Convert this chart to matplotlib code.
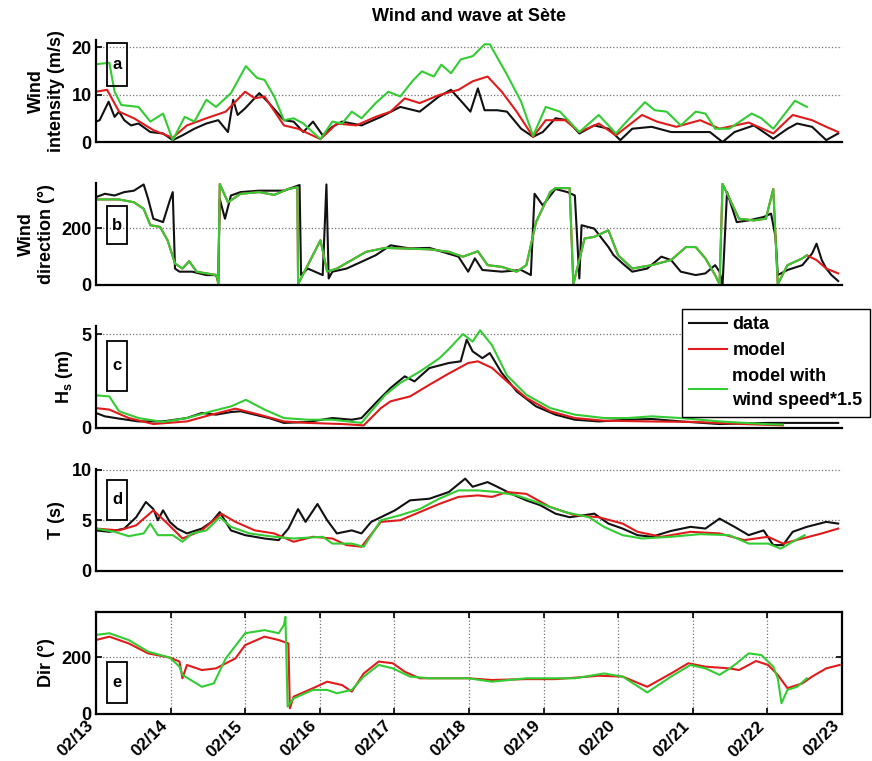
import matplotlib
matplotlib.use("Agg")
import matplotlib.pyplot as plt
from matplotlib.patches import Rectangle
import numpy as np

plt.rcParams['font.family'] = ['Liberation Sans', 'DejaVu Sans']
plt.rcParams['font.weight'] = 'bold'
plt.rcParams['mathtext.fontset'] = 'custom'
plt.rcParams['mathtext.rm'] = 'Liberation Sans:bold'
plt.rcParams['mathtext.it'] = 'Liberation Sans:bold'
plt.rcParams['mathtext.bf'] = 'Liberation Sans:bold'
plt.rcParams['mathtext.default'] = 'bf'

# time axis: days since 02/13 00:00
day_labels = ['02/13', '02/14', '02/15', '02/16', '02/17', '02/18',
              '02/19', '02/20', '02/21', '02/22', '02/23']
series_labels = ['data', 'model', 'model with\nwind speed*1.5']

# (a) wind intensity (m/s)
wspd_data_t = [0, 0.05, 0.17, 0.25, 0.31, 0.38, 0.47, 0.57, 0.73, 0.90,
               1.03, 1.16, 1.32, 1.48, 1.64, 1.77, 1.84, 1.90, 2.00, 2.19,
               2.32, 2.52, 2.65, 2.78, 2.91, 3.04, 3.17, 3.30, 3.56, 3.82,
               4.08, 4.34, 4.60, 4.76, 4.92, 5.02, 5.12, 5.21, 5.38, 5.51,
               5.70, 5.86, 5.99, 6.16, 6.32, 6.48, 6.68, 6.87, 7.03, 7.19,
               7.45, 7.71, 7.97, 8.23, 8.40, 8.56, 8.82, 9.08, 9.27, 9.40,
               9.60, 9.79, 9.95]
wspd_data = [4.3, 4.6, 8.5, 5.3, 6.4, 4.6, 3.5, 3.9, 2.1, 1.8,
             0.4, 1.4, 2.8, 3.9, 4.6, 2.1, 8.9, 5.7, 7.1, 10.3,
             8.2, 4.6, 4.3, 2.1, 4.3, 1.4, 3.2, 4.3, 3.5, 5.3,
             7.4, 6.4, 9.6, 11.0, 8.2, 6.4, 11.3, 6.7, 6.7, 6.4,
             2.8, 1.1, 2.1, 5.0, 4.6, 1.8, 3.5, 2.8, 0.4, 2.8,
             3.2, 2.1, 2.1, 2.1, 0.0, 2.1, 3.5, 0.7, 2.8, 3.9,
             3.2, 0.4, 1.8]
wspd_model_t = [0, 0.15, 0.31, 0.51, 0.77, 1.03, 1.22, 1.48, 1.74, 2.00,
                2.13, 2.26, 2.52, 2.71, 3.01, 3.23, 3.49, 3.75, 3.95, 4.14,
                4.34, 4.60, 4.86, 5.05, 5.25, 5.44, 5.64, 5.86, 6.03, 6.29,
                6.48, 6.74, 6.97, 7.32, 7.52, 7.78, 8.10, 8.36, 8.75, 9.08,
                9.34, 9.60, 9.79, 9.95]
wspd_model = [10.6, 11.0, 6.4, 5.0, 2.5, 0.9, 3.5, 5.0, 6.4, 10.6,
              9.2, 9.6, 3.5, 2.8, 0.6, 3.9, 3.5, 5.3, 6.4, 9.2,
              8.2, 9.9, 11.0, 12.8, 13.8, 10.6, 6.4, 1.1, 4.6, 4.6,
              2.1, 3.9, 1.4, 5.7, 4.3, 3.2, 4.6, 2.8, 4.1, 1.8,
              5.7, 4.6, 3.2, 2.1]
wspd_x15_t = [0, 0.18, 0.25, 0.34, 0.57, 0.73, 0.90, 1.03, 1.19, 1.32,
              1.48, 1.61, 1.81, 2.01, 2.16, 2.26, 2.39, 2.52, 2.65, 2.78,
              3.01, 3.17, 3.30, 3.43, 3.56, 3.75, 3.92, 4.08, 4.24, 4.37,
              4.53, 4.63, 4.76, 4.89, 5.05, 5.21, 5.28, 5.51, 5.70, 5.86,
              6.03, 6.22, 6.48, 6.74, 6.97, 7.13, 7.36, 7.49, 7.65, 7.84,
              8.04, 8.17, 8.30, 8.49, 8.79, 8.92, 9.08, 9.37, 9.53]
wspd_x15 = [16.4, 16.7, 10.6, 7.8, 7.4, 4.3, 6.0, 0.4, 5.3, 4.3,
            8.9, 7.4, 10.3, 16.0, 13.5, 13.1, 9.6, 4.6, 5.0, 3.9,
            0.6, 4.3, 3.9, 6.4, 5.0, 8.2, 10.6, 9.6, 12.8, 14.9,
            13.8, 16.3, 14.5, 17.4, 18.1, 20.6, 20.6, 14.2, 8.5, 1.3,
            7.4, 6.4, 2.1, 5.7, 1.8, 4.6, 8.4, 6.7, 6.4, 3.5,
            6.4, 6.0, 2.8, 2.8, 6.0, 5.0, 2.8, 8.7, 7.4]

# (b) wind direction (deg); the x1.5 run has the same direction as the model
wdir_data_t = [0, 0.12, 0.25, 0.38, 0.51, 0.64, 0.70, 0.77, 0.90, 0.99,
               1.03, 1.06, 1.12, 1.29, 1.48, 1.61, 1.64, 1.66, 1.73, 1.81,
               1.94, 2.19, 2.52, 2.73, 2.75, 2.84, 3.04, 3.09, 3.12, 3.17,
               3.36, 3.56, 3.75, 3.95, 4.21, 4.47, 4.86, 4.99, 5.08, 5.18,
               5.44, 5.70, 5.83, 5.88, 5.99, 6.16, 6.32, 6.42, 6.48, 6.51,
               6.68, 6.87, 6.94, 7.06, 7.19, 7.39, 7.58, 7.71, 7.84, 8.04,
               8.17, 8.30, 8.36, 8.40, 8.46, 8.59, 8.75, 8.95, 9.05, 9.11,
               9.14, 9.27, 9.47, 9.60, 9.66, 9.73, 9.79, 9.86, 9.95]
wdir_data = [310, 322, 316, 328, 333, 355, 304, 234, 222, 298,
             328, 58, 47, 47, 35, 35, 12, 304, 234, 316,
             328, 333, 333, 353, 35, 58, 35, 355, 23, 47,
             58, 82, 105, 140, 129, 131, 100, 47, 94, 53,
             47, 53, 35, 322, 281, 339, 328, 316, 23, 211,
             199, 134, 105, 76, 47, 58, 100, 88, 47, 35,
             41, 70, 47, 0, 328, 222, 228, 240, 252, 170,
             35, 53, 70, 111, 146, 88, 58, 35, 14]
wdir_model_t = [0, 0.31, 0.51, 0.64, 0.73, 0.86, 0.96, 1.06, 1.16, 1.25,
                1.35, 1.48, 1.62, 1.64, 1.66, 1.77, 1.94, 2.19, 2.39, 2.58,
                2.70, 2.71, 2.84, 3.01, 3.10, 3.23, 3.43, 3.62, 3.88, 4.47,
                4.73, 4.92, 5.12, 5.25, 5.44, 5.64, 5.77, 5.90, 6.09, 6.16,
                6.35, 6.40, 6.55, 6.68, 6.87, 7.00, 7.19, 7.45, 7.71, 7.91,
                8.04, 8.17, 8.30, 8.36, 8.40, 8.62, 8.82, 8.98, 9.08, 9.14,
                9.27, 9.47, 9.53, 9.66, 9.79, 9.95]
wdir_model = [302, 302, 292, 269, 211, 205, 158, 76, 58, 84,
              47, 41, 35, 3, 357, 292, 322, 328, 318, 339,
              345, 3, 70, 158, 47, 58, 88, 117, 131, 126,
              117, 100, 119, 70, 64, 47, 70, 222, 328, 342,
              342, 3, 164, 170, 193, 105, 58, 70, 88, 134,
              134, 94, 35, 3, 357, 234, 228, 234, 339, 3,
              70, 94, 105, 88, 58, 41]
x15_end = 9.53

# (c) significant wave height (m)
hs_data_t = [0, 0.12, 0.31, 0.57, 0.90, 1.22, 1.42, 1.61, 1.81, 1.94,
             2.13, 2.32, 2.52, 2.84, 3.17, 3.43, 3.56, 3.75, 3.95, 4.14,
             4.27, 4.47, 4.73, 4.89, 4.97, 5.05, 5.18, 5.28, 5.44, 5.64,
             5.90, 6.16, 6.42, 6.74, 7.13, 7.45, 7.84, 8.36, 9.01, 9.95]
hs_data = [0.8, 0.62, 0.5, 0.35, 0.35, 0.53, 0.8, 0.71, 0.85, 0.89,
           0.71, 0.53, 0.27, 0.32, 0.53, 0.44, 0.53, 1.33, 2.13, 2.75,
           2.48, 3.19, 3.46, 3.55, 4.7, 4.08, 3.72, 3.99, 2.93, 1.95,
           1.15, 0.71, 0.44, 0.35, 0.44, 0.48, 0.35, 0.21, 0.27, 0.27]
hs_model_t = [0, 0.18, 0.44, 0.77, 1.22, 1.55, 1.87, 2.19, 2.52, 2.84,
              3.30, 3.59, 3.82, 3.95, 4.21, 4.47, 4.73, 4.99, 5.12, 5.31,
              5.51, 5.77, 6.09, 6.42, 6.81, 7.39, 8.04, 8.69, 9.21]
hs_model = [1.06, 0.98, 0.53, 0.21, 0.35, 0.71, 1.03, 0.71, 0.35, 0.27,
            0.21, 0.14, 1.06, 1.42, 1.68, 2.3, 2.9, 3.46, 3.55, 3.2,
            2.48, 1.6, 0.89, 0.53, 0.39, 0.35, 0.32, 0.21, 0.14]
hs_x15_t = [0, 0.18, 0.31, 0.57, 0.90, 1.22, 1.55, 1.81, 2.01, 2.26,
            2.52, 2.84, 3.17, 3.56, 3.69, 3.88, 4.08, 4.34, 4.60, 4.73,
            4.92, 5.05, 5.15, 5.31, 5.51, 5.77, 6.09, 6.42, 6.81, 7.13,
            7.45, 7.84, 8.36, 9.01, 9.21]
hs_x15 = [1.74, 1.68, 0.89, 0.53, 0.32, 0.53, 0.89, 1.15, 1.5, 0.98,
          0.53, 0.44, 0.44, 0.27, 0.89, 1.77, 2.4, 3.0, 3.7, 4.2,
          5.0, 4.6, 5.2, 4.4, 2.8, 1.77, 1.06, 0.71, 0.53, 0.53,
          0.62, 0.53, 0.35, 0.2, 0.18]

# (d) wave period (s)
tp_data_t = [0, 0.18, 0.38, 0.54, 0.67, 0.77, 0.83, 0.90, 0.99, 1.09,
             1.22, 1.42, 1.55, 1.66, 1.81, 2.00, 2.26, 2.45, 2.58, 2.71,
             2.81, 2.97, 3.10, 3.23, 3.43, 3.56, 3.69, 3.82, 4.01, 4.21,
             4.47, 4.73, 4.95, 5.05, 5.25, 5.38, 5.57, 5.77, 5.96, 6.16,
             6.35, 6.55, 6.68, 6.87, 7.06, 7.26, 7.45, 7.71, 7.97, 8.17,
             8.36, 8.56, 8.75, 8.95, 9.08, 9.21, 9.34, 9.53, 9.79, 9.95]
tp_data = [4.0, 3.86, 4.18, 5.3, 6.8, 6.1, 5.0, 5.98, 4.84, 4.18,
           3.7, 4.18, 4.84, 5.8, 4.0, 3.53, 3.2, 3.04, 4.18, 6.1,
           4.84, 6.6, 5.0, 3.7, 4.0, 3.7, 4.84, 5.3, 5.98, 6.96,
           7.12, 7.78, 9.1, 8.3, 8.76, 8.3, 7.6, 6.96, 6.47, 5.65,
           5.3, 5.5, 5.65, 4.67, 4.18, 3.53, 3.37, 3.95, 4.35, 4.18,
           5.16, 4.35, 3.53, 4.0, 2.55, 2.55, 3.86, 4.35, 4.84, 4.67]
tp_model_t = [0, 0.31, 0.54, 0.77, 0.96, 1.16, 1.42, 1.68, 1.87, 2.13,
              2.39, 2.65, 2.91, 3.17, 3.36, 3.56, 3.82, 4.08, 4.34, 4.60,
              4.86, 5.12, 5.31, 5.51, 5.77, 6.09, 6.42, 6.74, 7.06, 7.26,
              7.58, 7.97, 8.36, 8.69, 9.01, 9.21, 9.47, 9.73, 9.95]
tp_model = [4.18, 4.0, 4.5, 5.98, 4.67, 3.2, 4.0, 5.65, 4.84, 4.0,
            3.7, 2.88, 3.37, 3.2, 2.55, 2.39, 4.84, 5.0, 5.8, 6.6,
            7.3, 7.45, 7.3, 7.78, 7.6, 6.3, 5.5, 5.3, 4.67, 3.86,
            3.37, 3.86, 3.7, 3.04, 3.37, 2.7, 3.2, 3.7, 4.18]
tp_x15_t = [0, 0.25, 0.44, 0.64, 0.73, 0.83, 1.03, 1.16, 1.29, 1.48,
            1.66, 1.81, 2.06, 2.39, 2.65, 3.04, 3.17, 3.43, 3.59, 3.82,
            4.08, 4.34, 4.60, 4.86, 5.12, 5.38, 5.64, 5.90, 6.29, 6.61,
            6.81, 7.06, 7.32, 7.71, 8.10, 8.49, 8.75, 9.01, 9.18, 9.34,
            9.50]
tp_x15 = [4.18, 3.86, 3.43, 3.7, 4.67, 3.53, 3.53, 2.88, 3.7, 4.0,
          5.3, 4.35, 3.7, 3.37, 3.2, 3.37, 2.7, 2.7, 2.39, 5.0,
          5.5, 6.1, 7.12, 7.94, 7.94, 7.78, 7.45, 6.8, 5.8, 5.3,
          4.35, 3.53, 3.2, 3.37, 3.63, 3.53, 2.7, 2.7, 2.2, 2.88,
          3.53]

# (e) wave direction (deg), model only
dir_model_t = [0, 0.18, 0.44, 0.70, 0.99, 1.12, 1.16, 1.22, 1.42, 1.61,
               1.87, 2.00, 2.26, 2.45, 2.58, 2.60, 2.65, 2.91, 3.10, 3.30,
               3.43, 3.59, 3.79, 3.98, 4.14, 4.34, 4.99, 5.31, 5.77, 6.16,
               6.42, 6.74, 7.06, 7.39, 7.71, 7.94, 8.17, 8.49, 8.62, 8.85,
               9.01, 9.14, 9.27, 9.47, 9.60, 9.79, 9.97]
dir_model = [261, 273, 249, 214, 199, 185, 126, 173, 155, 161,
             196, 243, 273, 261, 249, 20, 61, 91, 114, 102,
             79, 143, 185, 179, 149, 126, 126, 120, 123, 123,
             128, 135, 132, 96, 143, 179, 167, 161, 155, 187,
             173, 138, 91, 108, 132, 161, 173]
dir_x15_t = [0, 0.18, 0.44, 0.70, 0.99, 1.12, 1.16, 1.42, 1.58, 1.74,
             2.00, 2.26, 2.45, 2.52, 2.54, 2.57, 2.65, 2.91, 3.10, 3.23,
             3.43, 3.59, 3.79, 3.98, 4.21, 4.47, 4.99, 5.31, 5.77, 6.42,
             6.81, 7.06, 7.39, 7.71, 7.97, 8.17, 8.36, 8.53, 8.59, 8.75,
             8.92, 9.08, 9.14, 9.19, 9.27, 9.40, 9.53]
dir_x15 = [279, 285, 261, 220, 199, 167, 138, 96, 108, 196,
           285, 296, 285, 314, 343, 26, 55, 85, 85, 73,
           85, 132, 173, 161, 132, 126, 126, 114, 126, 126,
           143, 132, 76, 132, 173, 161, 138, 167, 179, 214,
           208, 167, 126, 38, 85, 96, 126]

C_DATA = '#111111'
C_MODEL = '#e01b1b'
C_X15 = '#33cc33'
LW = 1.5


def style_panel(ax, yticks, ylim, ylabel, letter, box_y, full_box=False):
    ax.set_xlim(0, 10)
    ax.set_ylim(*ylim)
    ax.set_yticks(yticks)
    ax.set_ylabel(ylabel, fontsize=13, fontweight='bold', labelpad=5)
    ax.grid(True, axis='y', linestyle=':', color='0.45', linewidth=0.9)
    ax.tick_params(axis='both', direction='in', length=4, width=1.2,
                   labelsize=13, pad=3)
    for lab in ax.get_yticklabels():
        lab.set_fontweight('bold')
    for s in ax.spines.values():
        s.set_linewidth(1.6)
    if not full_box:
        ax.spines['top'].set_visible(False)
        ax.spines['right'].set_visible(False)
        ax.set_xticks([])
    # panel letter in its tall frame
    ax.add_patch(Rectangle((0.0147, box_y[0]), 0.027, box_y[1] - box_y[0],
                           transform=ax.transAxes, fill=False,
                           edgecolor='black', linewidth=1.3, zorder=5))
    ax.text(0.0147 + 0.0135, (box_y[0] + box_y[1]) / 2, letter,
            transform=ax.transAxes, ha='center', va='center',
            fontsize=12, fontweight='bold', zorder=6)


fig = plt.figure(figsize=(8.72, 7.61), dpi=100)
left, width, height = 0.110, 0.8555, 0.134
bottoms = [0.8134, 0.6255, 0.4376, 0.2497, 0.0618]
axes = [fig.add_axes([left, b, width, height]) for b in bottoms]
ax_a, ax_b, ax_c, ax_d, ax_e = axes

ax_a.plot(wspd_data_t, wspd_data, color=C_DATA, lw=LW)
ax_a.plot(wspd_model_t, wspd_model, color=C_MODEL, lw=LW)
ax_a.plot(wspd_x15_t, wspd_x15, color=C_X15, lw=LW)
style_panel(ax_a, [0, 10, 20], (0, 21.5), 'Wind\nintensity (m/s)', 'a', (0.549, 0.97))

t_dir = np.array(wdir_model_t)
v_dir = np.array(wdir_model)
keep = t_dir <= x15_end
ax_b.plot(wdir_data_t, wdir_data, color=C_DATA, lw=LW)
ax_b.plot(t_dir, v_dir, color=C_MODEL, lw=LW)
ax_b.plot(t_dir[keep], v_dir[keep], color=C_X15, lw=LW)
style_panel(ax_b, [0, 200], (0, 360), 'Wind\ndirection (°)', 'b', (0.40, 0.775))

l1, = ax_c.plot(hs_data_t, hs_data, color=C_DATA, lw=LW)
l2, = ax_c.plot(hs_model_t, hs_model, color=C_MODEL, lw=LW)
l3, = ax_c.plot(hs_x15_t, hs_x15, color=C_X15, lw=LW)
style_panel(ax_c, [0, 5], (0, 5.43), 'H$_s$ (m)', 'c', (0.363, 0.853))

ax_d.plot(tp_data_t, tp_data, color=C_DATA, lw=LW)
ax_d.plot(tp_model_t, tp_model, color=C_MODEL, lw=LW)
ax_d.plot(tp_x15_t, tp_x15, color=C_X15, lw=LW)
style_panel(ax_d, [0, 5, 10], (0, 10.05), 'T (s)', 'd', (0.50, 0.894))

ax_e.plot(dir_model_t, dir_model, color=C_MODEL, lw=LW)
ax_e.plot(dir_x15_t, dir_x15, color=C_X15, lw=LW)
style_panel(ax_e, [0, 200], (0, 360), 'Dir (°)', 'e', (0.108, 0.51), full_box=True)
ax_e.set_xticks(range(len(day_labels)))
ax_e.set_xticklabels(day_labels, rotation=45, ha='right', fontweight='bold',
                     fontsize=12.5)
ax_e.tick_params(top=True, right=True)
ax_e.grid(True, axis='x', linestyle=':', color='0.45', linewidth=0.9)

fig.text(0.538, 0.978, 'Wind and wave at Sète', ha='center', va='center',
         fontsize=13, fontweight='bold')

leg = fig.legend([l1, l2, l3], series_labels, loc='upper left',
                 bbox_to_anchor=(0.782, 0.594),
                 prop={'weight': 'bold', 'size': 13},
                 frameon=True, fancybox=False, framealpha=1, edgecolor='black',
                 borderaxespad=0, handlelength=2.1, handletextpad=0.3,
                 labelspacing=0.5, borderpad=0.4)
leg.get_frame().set_linewidth(1.0)
leg.get_texts()[2].set_linespacing(1.55)

fig.savefig('out.png', dpi=100)
